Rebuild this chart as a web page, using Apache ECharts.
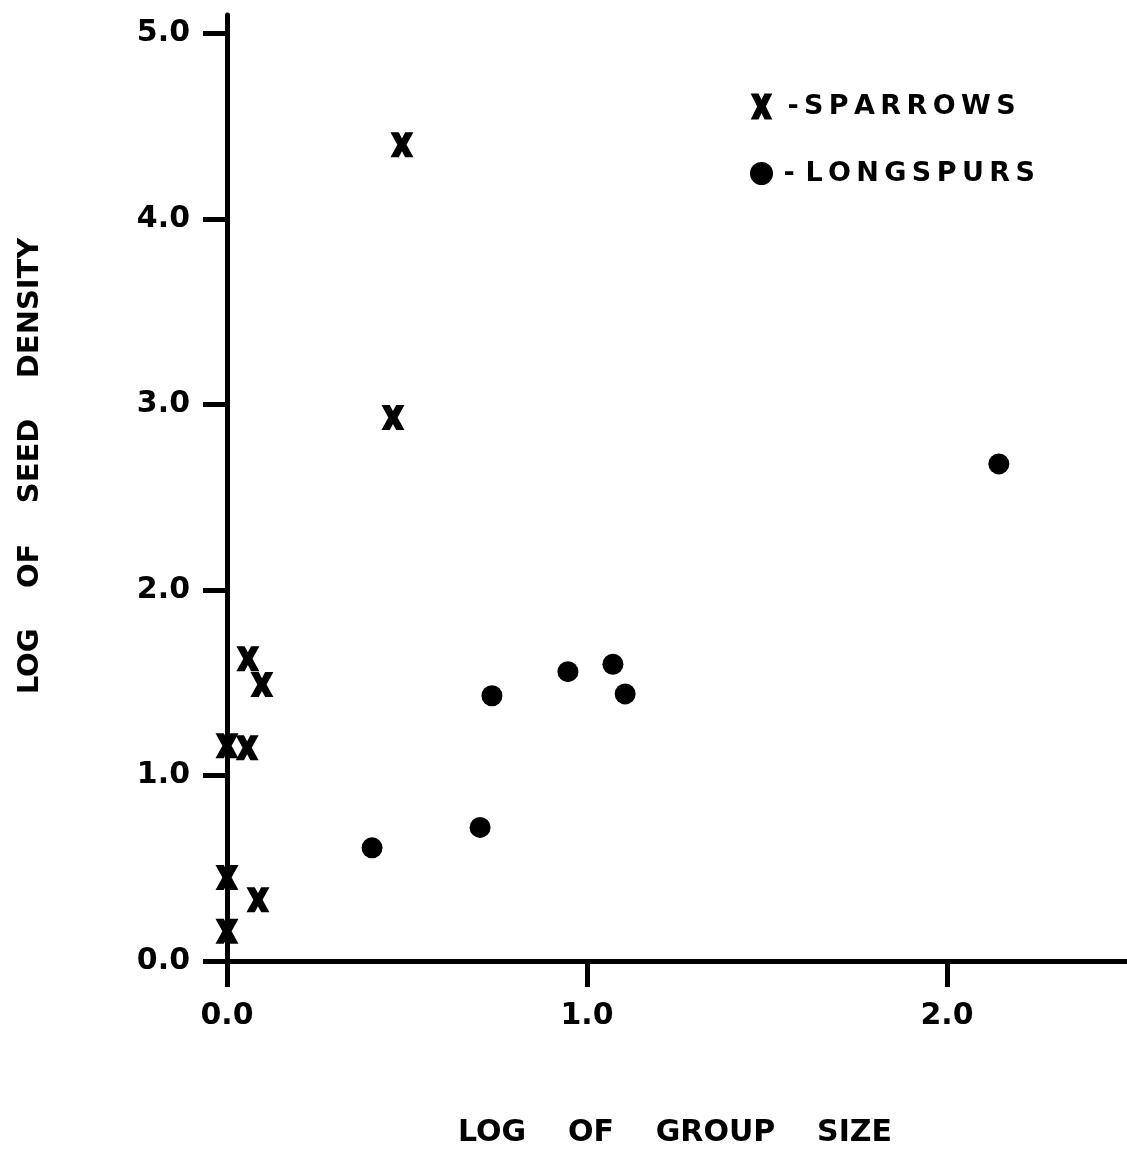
<!DOCTYPE html>
<html>
<head>
<meta charset="utf-8">
<script src="https://cdn.jsdelivr.net/npm/echarts@6/dist/echarts.min.js"></script>
<style>
  html, body { margin: 0; padding: 0; background: #fff; }
  #chart { width: 1127px; height: 1152px; }
</style>
</head>
<body>
<div id="chart"></div>
<script>
// values (log group size, log seed density)
var sparrowX = [0.058, 0.097, 0.0, 0.056, 0.0, 0.086, 0.0, 0.486, 0.461];
var sparrowY = [1.63, 1.49, 1.16, 1.15, 0.45, 0.33, 0.16, 4.40, 2.93];
var longspurX = [0.403, 0.703, 0.736, 0.947, 1.072, 1.106, 2.144];
var longspurY = [0.61, 0.72, 1.43, 1.56, 1.60, 1.44, 2.68];
var xTicks = [0, 1, 2];
var yTicks = [0, 1, 2, 3, 4, 5];

var FONT = 'DejaVu Sans';
var xPath = 'path://M0,0 L3.6,0 L5,2.9 L6.4,0 L10,0 L7,6 L10,12 L6.4,12 L5,9.1 L3.6,12 L0,12 L3,6 Z';

// spread letters a little, like the typed original
function spaced(s) {
    return s.split('').join('\u2009');
}

function pairs(xs, ys) {
    var out = [];
    for (var i = 0; i < xs.length; i++) {
        out.push([xs[i], ys[i]]);
    }
    return out;
}

var myChart = echarts.init(document.getElementById('chart'));
myChart.setOption({
    backgroundColor: '#fff',
    animation: false,
    grid: { left: 227, right: 0, top: 15, bottom: 191 },
    legend: {
        orient: 'vertical',
        left: 745,
        top: 88,
        itemGap: 40,
        itemWidth: 23,
        itemHeight: 26,
        textStyle: { fontFamily: FONT, fontWeight: 'bold', fontSize: 27, color: '#000' },
        formatter: function (name) {
            return name === 'SPARROWS' ? ' ' + spaced('-SPARROWS') : '\u2009-\u2009\u2009' + spaced('LONGSPURS');
        },
        data: [
            { name: 'SPARROWS', icon: xPath },
            { name: 'LONGSPURS', icon: 'circle' }
        ]
    },
    xAxis: {
        type: 'value',
        min: 0,
        max: 2.5,
        interval: 0.5,
        splitLine: { show: false },
        axisLine: { onZero: false, lineStyle: { color: '#000', width: 5 } },
        axisTick: { customValues: xTicks, length: 26, lineStyle: { color: '#000', width: 5 } },
        axisLabel: {
            customValues: xTicks,
            margin: 40,
            fontFamily: FONT, fontWeight: 'bold', fontSize: 30, color: '#000',
            formatter: function (v) { return v.toFixed(1); }
        }
    },
    yAxis: {
        type: 'value',
        min: 0,
        max: 5.1,
        interval: 1,
        splitLine: { show: false },
        axisLine: { onZero: false, lineStyle: { color: '#000', width: 5 } },
        axisTick: { customValues: yTicks, length: 24, lineStyle: { color: '#000', width: 5 } },
        axisLabel: {
            customValues: yTicks,
            margin: 37,
            fontFamily: FONT, fontWeight: 'bold', fontSize: 30, color: '#000',
            formatter: function (v) { return v.toFixed(1); }
        }
    },
    graphic: [
        {
            type: 'text',
            x: 675,
            y: 1133,
            style: {
                text: 'LOG    OF    GROUP    SIZE',
                font: 'bold 30px "DejaVu Sans"',
                fill: '#000',
                align: 'center',
                verticalAlign: 'middle'
            }
        },
        {
            type: 'text',
            x: 30,
            y: 466,
            rotation: Math.PI / 2,
            style: {
                text: 'LOG    OF    SEED    DENSITY',
                font: 'bold 29px "DejaVu Sans"',
                fill: '#000',
                align: 'center',
                verticalAlign: 'middle'
            }
        }
    ],
    series: [
        {
            name: 'SPARROWS',
            type: 'scatter',
            symbol: xPath,
            symbolSize: [23, 25],
            itemStyle: { color: '#000', opacity: 1 },
            data: pairs(sparrowX, sparrowY)
        },
        {
            name: 'LONGSPURS',
            type: 'scatter',
            symbol: 'circle',
            symbolSize: 21,
            itemStyle: { color: '#000', opacity: 1 },
            data: pairs(longspurX, longspurY)
        }
    ]
});
</script>
</body>
</html>
